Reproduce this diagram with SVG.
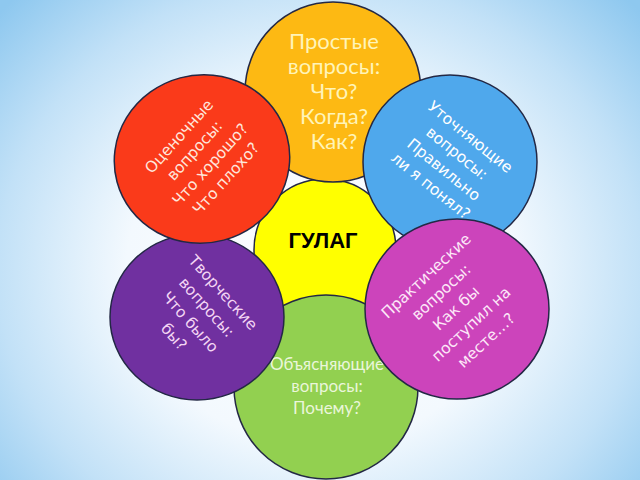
<svg xmlns="http://www.w3.org/2000/svg" width="640" height="480" viewBox="0 0 640 480">
<defs>
<radialGradient id="bg" gradientUnits="userSpaceOnUse" cx="320" cy="270" r="430" gradientTransform="translate(320 270) scale(1 0.9) translate(-320 -270)">
<stop offset="0" stop-color="#ffffff"/>
<stop offset="0.45" stop-color="#f3f9fe"/>
<stop offset="0.75" stop-color="#c2e1f7"/>
<stop offset="1" stop-color="#8ec8ef"/>
</radialGradient>
<style>
.p{stroke:#232845;stroke-width:1.5}
.big{font-family:Lato,"Open Sans","Noto Sans",sans-serif;text-anchor:middle}
.rot{font-family:"DejaVu Sans","Noto Sans",sans-serif;font-size:15.5px;text-anchor:middle}
</style>
</defs>
<rect width="640" height="480" fill="url(#bg)"/>

<g id="center">
<circle class="p" cx="325" cy="250" r="71" fill="#ffff00"/>
<text x="323" y="248" font-family="'Liberation Sans',Arial,sans-serif" font-weight="bold" font-size="22" text-anchor="middle" fill="#000">ГУЛАГ</text>
</g>

<g id="simple">
<ellipse class="p" cx="333" cy="92" rx="88" ry="90" fill="#fdb913"/>
<g class="big" font-size="22" fill="#fff4b8">
<text x="334" y="49">Простые</text>
<text x="334" y="74">вопросы:</text>
<text x="334" y="99">Что?</text>
<text x="334" y="124">Когда?</text>
<text x="334" y="149">Как?</text>
</g>
</g>

<g id="explain">
<circle class="p" cx="326" cy="387" r="92" fill="#92d050"/>
<g class="big" font-size="17" fill="#eaf6da">
<text x="327" y="370">Объясняющие</text>
<text x="327" y="392">вопросы:</text>
<text x="327" y="414">Почему?</text>
</g>
</g>

<g id="creative">
<ellipse class="p" cx="197" cy="317" rx="87" ry="83" fill="#7030a0"/>
<g class="rot" fill="#f4d6f4" transform="translate(197.5 315.5) rotate(48)">
<text x="0" y="-29">Творческие</text>
<text x="0" y="-7">вопросы:</text>
<text x="0" y="15">Что было</text>
<text x="0" y="37">бы?</text>
</g>
</g>

<g id="evaluative">
<ellipse class="p" cx="202" cy="159" rx="88" ry="84" fill="#fa3a1a" transform="rotate(-15 202 159)"/>
<g class="rot" fill="#ffe6dc" transform="translate(203 158) rotate(-48)">
<text x="0" y="-27">Оценочные</text>
<text x="0" y="-6">вопросы:</text>
<text x="0" y="15">Что хорошо?</text>
<text x="0" y="36">Что плохо?</text>
</g>
</g>

<g id="clarifying">
<circle class="p" cx="450" cy="162" r="87" fill="#4fa8ec"/>
<g class="rot" fill="#ffffff" transform="translate(450 162) rotate(39)">
<text x="0" y="-27">Уточняющие</text>
<text x="0" y="-6">вопросы:</text>
<text x="0" y="15">Правильно</text>
<text x="0" y="36">ли я понял?</text>
</g>
</g>

<g id="practical">
<ellipse class="p" cx="457" cy="309" rx="92" ry="90" fill="#cc44bb"/>
<g class="rot" fill="#fde8f8" transform="translate(457 309) rotate(-43)">
<text x="0" y="-40">Практические</text>
<text x="0" y="-18">вопросы:</text>
<text x="0" y="4">Как бы</text>
<text x="0" y="26">поступил на</text>
<text x="0" y="48">месте…?</text>
</g>
</g>

<g id="connectors"></g>
</svg>
